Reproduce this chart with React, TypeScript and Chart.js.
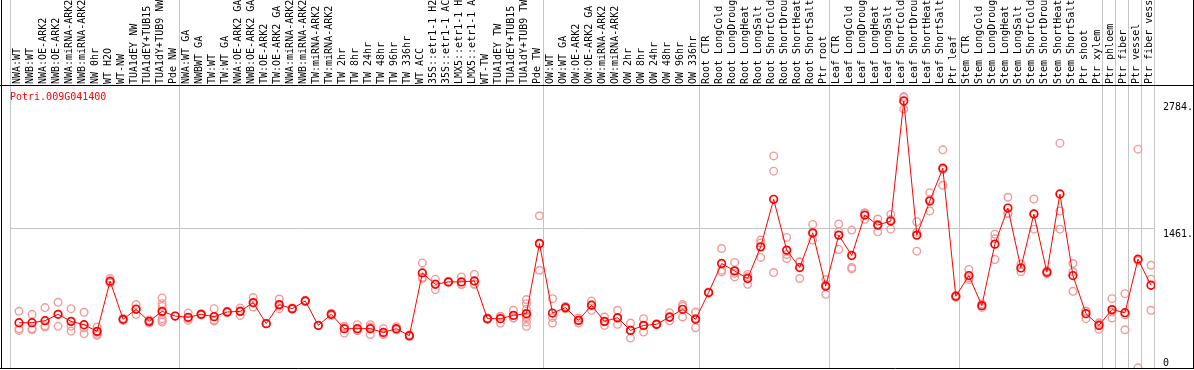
import React, { useEffect, useRef } from 'react';
import { Chart, registerables } from 'chart.js';

Chart.register(...registerables);

const geneId = 'Potri.009G041400';

const categories = [
  'NWA:WT', 'NWB:WT', 'NWA:OE-ARK2', 'NWB:OE-ARK2', 'NWA:miRNA-ARK2', 'NWB:miRNA-ARK2',
  'NW 0hr', 'WT H2O', 'WT-NW', 'TUA1dEY NW', 'TUA1dEY+TUB15 NW', 'TUA1dY+TUB9 NW', 'Pde NW',
  'NWA:WT GA', 'NWBWT GA', 'TW:WT', 'TW:WT GA', 'NWA:OE-ARK2 GA', 'NWB:OE-ARK2 GA',
  'TW:OE-ARK2', 'TW:OE-ARK2 GA', 'NWA:miRNA-ARK2 GA', 'NWB:miRNA-ARK2 GA', 'TW:miRNA-ARK2',
  'TW:miRNA-ARK2 GA', 'TW 2hr', 'TW 8hr', 'TW 24hr', 'TW 48hr', 'TW 96hr', 'TW 336hr',
  'WT ACC', '35S::etr1-1 H2O', '35S::etr1-1 ACC', 'LMX5::etr1-1 H2O', 'LMX5::etr1-1 ACC',
  'WT-TW', 'TUA1dEY TW', 'TUA1dEY+TUB15 TW', 'TUA1dY+TUB9 TW', 'Pde TW',
  'OW:WT', 'OW:WT GA', 'OW:OE-ARK2', 'OW:OE-ARK2 GA', 'OW:miRNA-ARK2', 'OW:miRNA-ARK2 GA',
  'OW 2hr', 'OW 8hr', 'OW 24hr', 'OW 48hr', 'OW 96hr', 'OW 336hr',
  'Root CTR', 'Root LongCold', 'Root LongDrought', 'Root LongHeat', 'Root LongSalt',
  'Root ShortCold', 'Root ShortDrought', 'Root ShortHeat', 'Root ShortSalt', 'Ptr root',
  'Leaf CTR', 'Leaf LongCold', 'Leaf LongDrought', 'Leaf LongHeat', 'Leaf LongSalt',
  'Leaf ShortCold', 'Leaf ShortDrought', 'Leaf ShortHeat', 'Leaf ShortSalt', 'Ptr leaf',
  'Stem CTR', 'Stem LongCold', 'Stem LongDrought', 'Stem LongHeat', 'Stem LongSalt',
  'Stem ShortCold', 'Stem ShortDrought', 'Stem ShortHeat', 'Stem ShortSalt', 'Ptr shoot',
  'Ptr xylem', 'Ptr phloem', 'Ptr fiber', 'Ptr vessel', 'Ptr fiber vessel',
];

const means = [
  481, 481, 502, 568, 495, 460, 391, 912, 516, 620, 495, 599, 550,
  537, 568, 544, 592, 599, 690, 471, 669, 627, 707, 453, 568, 419, 419, 419, 380, 419, 346,
  998, 880, 905, 905, 915, 523, 523, 557, 575, 1305,
  581, 638, 505, 662, 495, 533, 401, 453, 464, 540, 620, 516,
  794, 1096, 1019, 940, 1269, 1763, 1235, 1054, 1415, 860,
  1391, 1179, 1599, 1495, 1537, 2784, 1391, 1745, 2086, 755,
  971, 658, 1297, 1672, 1050, 1610, 1005, 1818, 971, 575, 453,
  617, 585, 1141, 870,
];

const replicates = [
  [599, 419, 401], [568, 420, 408], [638, 436, 450], [693, 443], [627, 443, 394],
  [589, 367, 425], [436, 380, 360, 349], [940, 900, 895], [525, 505], [669, 568, 625],
  [478, 510], [738, 679, 650, 590, 523, 488, 505], [550],
  [581, 505, 525], [575, 560], [627, 498, 510], [600, 585], [634, 557, 605], [742, 644, 685],
  [471], [727, 627, 653], [635, 620], [715, 700], [453], [580, 556], [373, 440, 445],
  [460, 400, 398], [460, 359, 438], [419, 360, 361], [440, 410, 407], [355, 337],
  [1102, 940, 952], [933, 825, 882], [910, 900], [957, 880, 878], [982, 880, 883],
  [530, 515], [477, 545, 547], [610, 530, 531], [721, 679, 620, 530, 488, 443, 545],
  [1592, 1026, 1297],
  [731, 535, 477], [650, 626], [477, 530, 508], [707, 610, 669], [540, 453, 492],
  [610, 464, 525], [477, 321, 405], [523, 384, 452], [470, 458], [585, 500, 535],
  [669, 540, 651], [592, 429, 527],
  [800, 788], [1252, 1009, 1027], [1107, 957, 993], [982, 880, 958], [1339, 1159, 1309],
  [2214, 2055, 1002], [1367, 1148, 1190], [1113, 940, 1109], [1502, 1339, 1404], [929, 776, 875],
  [1506, 1242, 1425], [1443, 1054, 1040], [1623, 1555, 1619], [1558, 1425, 1502],
  [1606, 1453, 1552], [2830, 2700, 2822], [1530, 1224, 1419], [1832, 1641, 1762],
  [2277, 1909, 2072], [765, 745],
  [1034, 930, 949], [640, 676], [1401, 1138, 1352], [1784, 1617, 1615], [1090, 1010],
  [1766, 1453, 1611], [990, 1020], [2346, 1641, 1453], [1096, 807, 1010], [523, 600, 602],
  [412, 480, 467],
  [731, 529, 591], [783, 408, 564], [2284, 12, 1127], [1078, 933, 610],
];

const yTickValues = [0, 1461, 2784];
const groupBoundaries = [0, 13, 41, 53, 63, 73, 84, 85, 86, 87, 88];

const MONO = '"DejaVu Sans Mono", "Liberation Mono", monospace';

export default function App() {
  const canvasRef = useRef<HTMLCanvasElement>(null);

  useEffect(() => {
    const canvas = canvasRef.current;
    if (!canvas) return;

    // points sit a little to the right of the category centre
    const shift = 9 / 13 - 0.5;
    const meanData = means.map((v, i) => ({ x: i + shift, y: v }));
    const repData = replicates.flatMap((reps, i) => reps.map((v) => ({ x: i + shift, y: v })));
    const boundarySet = new Set(groupBoundaries);

    const framePlugin = {
      id: 'frame',
      afterDraw(chart: any) {
        const ctx = chart.ctx;
        const area = chart.chartArea;
        ctx.save();
        ctx.strokeStyle = '#000';
        ctx.lineWidth = 1;
        ctx.beginPath();
        ctx.moveTo(0, area.top - 0.5);
        ctx.lineTo(chart.width, area.top - 0.5);
        ctx.moveTo(1.5, 0);
        ctx.lineTo(1.5, area.bottom);
        ctx.moveTo(chart.width - 0.5, 0);
        ctx.lineTo(chart.width - 0.5, area.bottom);
        ctx.moveTo(0, area.bottom - 0.5);
        ctx.lineTo(chart.width, area.bottom - 0.5);
        ctx.stroke();
        ctx.restore();
      },
    };

    const titlePlugin = {
      id: 'geneTitle',
      afterDatasetsDraw(chart: any) {
        const ctx = chart.ctx;
        const area = chart.chartArea;
        ctx.save();
        ctx.fillStyle = '#ff0000';
        ctx.font = `10px ${MONO}`;
        ctx.textAlign = 'left';
        ctx.textBaseline = 'middle';
        ctx.fillText(geneId, area.left, area.top + 11);
        ctx.restore();
      },
    };

    const chart = new Chart(canvas, {
      type: 'line',
      data: {
        datasets: [
          {
            label: 'mean',
            data: meanData,
            xAxisID: 'x',
            yAxisID: 'y',
            borderColor: '#ff0000',
            borderWidth: 1,
            pointRadius: 3.8,
            pointBorderWidth: 1.7,
            pointBorderColor: '#ff0000',
            pointBackgroundColor: 'rgba(0,0,0,0)',
            tension: 0,
            order: 0,
          },
          {
            label: 'replicates',
            data: repData,
            xAxisID: 'x',
            yAxisID: 'y',
            showLine: false,
            borderColor: '#f29a9a',
            pointRadius: 3.8,
            pointBorderWidth: 1.4,
            pointBorderColor: '#f29a9a',
            pointBackgroundColor: 'rgba(0,0,0,0)',
            order: 1,
          },
        ],
      },
      options: {
        responsive: false,
        animation: false,
        devicePixelRatio: 1,
        layout: { autoPadding: false, padding: { left: 10, right: 0, top: 0, bottom: 1 } },
        plugins: {
          legend: { display: false },
          tooltip: { enabled: false },
          title: { display: false },
        },
        scales: {
          x: {
            type: 'linear',
            display: false,
            min: -0.5,
            max: categories.length - 0.5,
          },
          x2: {
            type: 'category',
            axis: 'x',
            position: 'top',
            labels: categories,
            offset: true,
            grid: {
              offset: true,
              display: true,
              drawOnChartArea: true,
              drawTicks: true,
              tickLength: 86,
              lineWidth: 1,
              color: (ctx: any) =>
                ctx.index === undefined || boundarySet.has(ctx.index) ? '#c4c4c4' : 'rgba(0,0,0,0)',
            },
            border: { display: false },
            ticks: {
              autoSkip: false,
              minRotation: 90,
              maxRotation: 90,
              padding: -84,
              labelOffset: 12.5,
              color: '#000',
              font: { family: MONO, size: 10 },
            },
            afterFit: (scale: any) => {
              scale.height = 86;
              scale.paddingLeft = 0;
              scale.paddingRight = 0;
            },
          } as any,
          y: {
            type: 'linear',
            position: 'right',
            min: 0,
            max: 2940,
            afterBuildTicks: (scale: any) => {
              scale.ticks = yTickValues.map((v) => ({ value: v }));
            },
            grid: {
              drawTicks: false,
              lineWidth: 1,
              color: (ctx: any) => (ctx.tick && ctx.tick.value === 1461 ? '#c4c4c4' : 'rgba(0,0,0,0)'),
            },
            border: { display: false },
            ticks: {
              autoSkip: false,
              padding: 8,
              color: '#000',
              font: { family: MONO, size: 10 },
              callback: (value: any) => (value === 0 ? ['0', ''] : ['', `${value}.`]),
            },
            afterFit: (scale: any) => {
              scale.width = 39;
              scale.paddingTop = 0;
              scale.paddingBottom = 0;
            },
          } as any,
        },
      },
      plugins: [framePlugin, titlePlugin],
    });

    return () => {
      chart.destroy();
    };
  }, []);

  return (
    <div style={{ position: 'absolute', left: 0, top: 0, width: 1194, height: 370, background: '#fff' }}>
      <canvas ref={canvasRef} width={1194} height={370} style={{ display: 'block' }} />
    </div>
  );
}
